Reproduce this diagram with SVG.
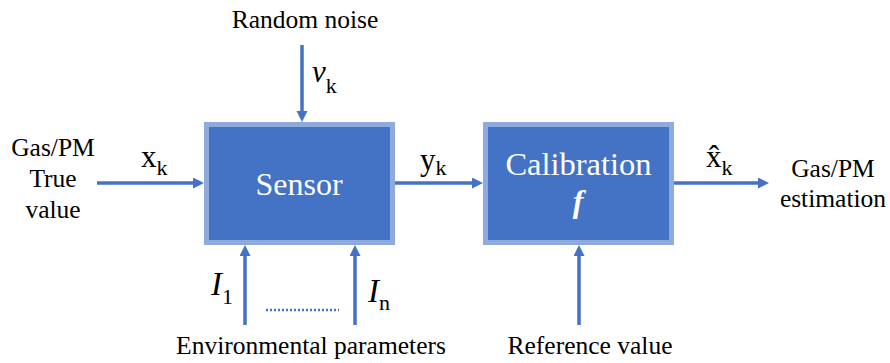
<svg xmlns="http://www.w3.org/2000/svg" width="890" height="363" viewBox="0 0 890 363">
<style>
.t{font-family:"Liberation Serif",serif;fill:#000}
.lbl{font-size:25.5px}
.box{fill:#4472C4;stroke:#8FAADC;stroke-width:5}
.wt{fill:#fff}
.conn{stroke:#4472C4;stroke-width:3.5;fill:none;marker-end:url(#ah)}
.sub{font-size:22px;font-style:normal}
.var{font-size:31px}
.it{font-style:italic}
</style>
<defs>
<marker id="ah" markerUnits="userSpaceOnUse" markerWidth="12" markerHeight="12" refX="4" refY="5.5" orient="auto">
<path d="M0,0 L11,5.5 L0,11 z" fill="#4472C4"/>
</marker>
</defs>
<rect width="890" height="363" fill="#fff"/>
<g id="connectors">
<line class="conn" x1="97" y1="183" x2="197" y2="183"/>
<line class="conn" x1="302" y1="45" x2="302" y2="115"/>
<line class="conn" x1="245" y1="325" x2="245" y2="252"/>
<line class="conn" x1="355" y1="325" x2="355" y2="252"/>
<line class="conn" x1="395" y1="183" x2="476" y2="183"/>
<line class="conn" x1="579" y1="325" x2="579" y2="252"/>
<line class="conn" x1="672" y1="183" x2="762" y2="183"/>
<line x1="266" y1="310" x2="339" y2="310" stroke="#4472C4" stroke-width="2.5" stroke-dasharray="2 2"/>
</g>
<g id="sensor">
<rect class="box" x="206.5" y="124.5" width="186" height="118"/>
<text class="t wt" x="299" y="195" text-anchor="middle" style="font-size:32px">Sensor</text>
</g>
<g id="calibration">
<rect class="box" x="485.5" y="124.5" width="186" height="118"/>
<text class="t wt" x="578.5" y="175" text-anchor="middle" style="font-size:32.5px">Calibration</text>
<text class="t wt it" x="578" y="212" text-anchor="middle" style="font-size:32px;font-weight:bold">f</text>
</g>
<g id="input-label">
<text class="t lbl" text-anchor="middle"><tspan x="53" y="156">Gas/PM</tspan><tspan x="53" y="187">True</tspan><tspan x="53" y="218">value</tspan></text>
<text class="t var" x="141" y="167">x<tspan class="sub" dy="8">k</tspan></text>
</g>
<g id="noise-label">
<text class="t lbl" x="305" y="28" text-anchor="middle">Random noise</text>
<text class="t var it" x="312" y="82">v<tspan class="sub" dy="11">k</tspan></text>
</g>
<g id="env-label">
<text class="t it" x="211" y="295" style="font-size:33px">I<tspan class="sub" dy="9">1</tspan></text>
<text class="t it" x="368" y="302" style="font-size:33px">I<tspan class="sub" dy="8">n</tspan></text>
<text class="t lbl" x="311" y="354" text-anchor="middle">Environmental parameters</text>
</g>
<g id="yk-label">
<text class="t var" x="420" y="170">y<tspan class="sub" dy="5">k</tspan></text>
</g>
<g id="output-label">
<text class="t var" x="706" y="167">x̂<tspan class="sub" dy="8">k</tspan></text>
<text class="t lbl" text-anchor="middle"><tspan x="833" y="177">Gas/PM</tspan><tspan x="833" y="207">estimation</tspan></text>
</g>
<g id="reference-label">
<text class="t lbl" x="590" y="354" text-anchor="middle">Reference value</text>
</g>
</svg>
